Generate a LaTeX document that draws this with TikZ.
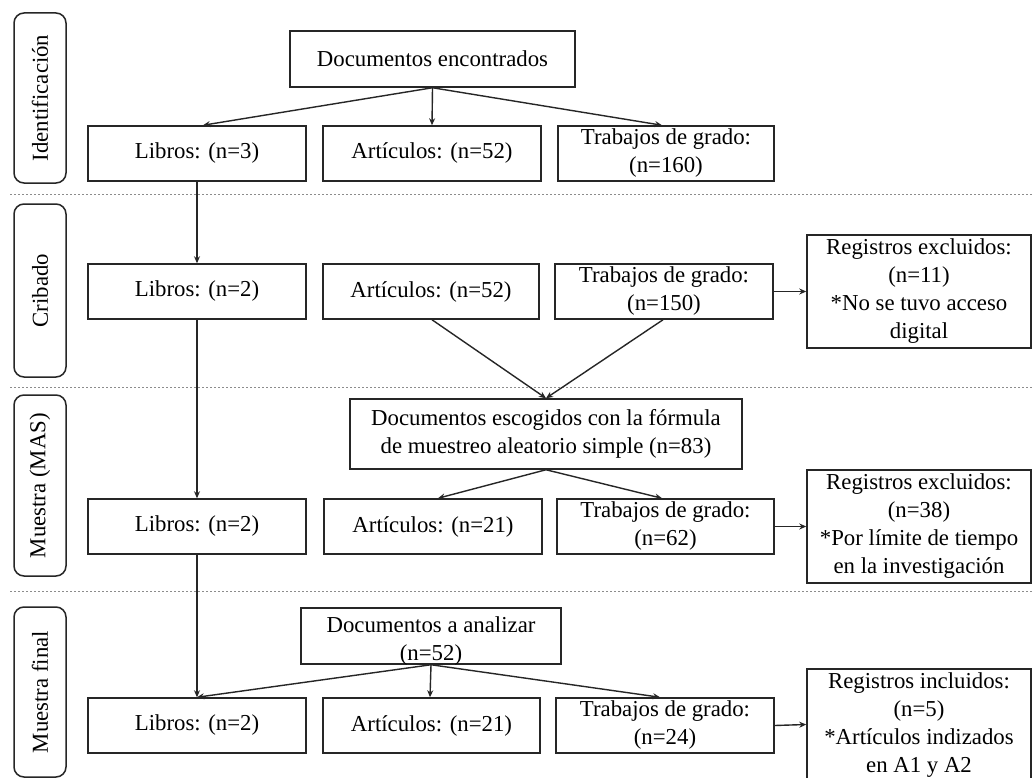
\documentclass[tikz,border=0pt]{standalone}
\usepackage{fontspec}
\setmainfont{Liberation Serif}
\usetikzlibrary{arrows.meta}
\begin{document}
\begin{tikzpicture}[x=1pt,y=-1pt,
  font=\fontsize{22.8}{28}\selectfont,
  box/.style={draw=black!85, line width=1.5pt, rectangle, inner sep=0pt, align=center, minimum height=55pt},
  side/.style={draw=black!85, line width=1.5pt, rounded corners=10pt, inner sep=0pt, minimum width=52pt},
  sep/.style={draw=black!45, line width=1pt, dash pattern=on 2pt off 2pt},
  arr/.style={draw=black!85, line width=1.4pt, -{Stealth[length=7pt,width=6pt]}}
]
\clip (0,0) rectangle (1032,778);
\fill[white] (0,0) rectangle (1032,778);

% separators
\draw[sep] (10,194) -- (1032,194);
\draw[sep] (10,387) -- (1032,387);
\draw[sep] (10,591) -- (1032,591);

% side labels
\node[side, minimum height=170pt] (s1) at (40,98) {};
\node[rotate=90] (s1t) at (s1.center) {Identificación};
\node[side, minimum height=173pt] (s2) at (40,290.5) {};
\node[rotate=90] (s2t) at (s2.center) {Cribado};
\node[side, minimum height=181pt] (s3) at (40,485.5) {};
\node[rotate=90] (s3t) at (s3.center) {Muestra (MAS)};
\node[side, minimum height=170pt] (s4) at (40,692) {};
\node[rotate=90] (s4t) at (s4.center) {Muestra final};

% row 1
\node[box, minimum width=285pt, minimum height=56pt] (enc) at (432.5,59) {Documentos encontrados};
\node[box, minimum width=218pt] (lib1) at (197,153.5) {Libros: (n=3)};
\node[box, minimum width=218pt] (art1) at (432,153.5) {Artículos: (n=52)};
\node[box, minimum width=216pt] (tra1) at (666,153.5) {Trabajos de grado:\\(n=160)};

% row 2
\node[box, minimum width=218pt] (lib2) at (197,291.5) {Libros: (n=2)};
\node[box, minimum width=216pt] (art2) at (431,291.5) {Artículos: (n=52)};
\node[box, minimum width=218pt] (tra2) at (664,291.5) {Trabajos de grado:\\(n=150)};
\node[box, minimum width=224pt, minimum height=113pt] (reg2) at (919,291.5) {Registros excluidos:\\(n=11)\\*No se tuvo acceso\\digital};

% muestreo
\node[box, minimum width=392pt, minimum height=70pt] (esc) at (546,434) {Documentos escogidos con la fórmula\\de muestreo aleatorio simple (n=83)};

% row 3
\node[box, minimum width=218pt] (lib3) at (197,526.5) {Libros: (n=2)};
\node[box, minimum width=218pt] (art3) at (433,526.5) {Artículos: (n=21)};
\node[box, minimum width=217pt] (tra3) at (665.5,526.5) {Trabajos de grado:\\(n=62)};
\node[box, minimum width=224pt, minimum height=113pt] (reg3) at (919,526.5) {Registros excluidos:\\(n=38)\\*Por límite de tiempo\\en la investigación};

% final
\node[box, minimum width=260pt, minimum height=56pt] (ana) at (431,636) {};
\node[align=center, inner sep=0pt] (anat) at (431,641) {Documentos a analizar\\(n=52)};

% row 4
\node[box, minimum width=218pt] (lib4) at (197,725.5) {Libros: (n=2)};
\node[box, minimum width=217pt] (art4) at (431.5,725.5) {Artículos: (n=21)};
\node[box, minimum width=218pt] (tra4) at (665,725.5) {Trabajos de grado:\\(n=24)};
\node[box, minimum width=224pt, minimum height=112pt] (reg4) at (919,725) {Registros incluidos:\\(n=5)\\*Artículos indizados\\en A1 y A2};

% arrows
\draw[arr] (enc.south) -- ([xshift=6pt]lib1.north);
\draw[arr] (enc.south) -- (art1.north);
\draw[arr] (enc.south) -- ([xshift=-4pt]tra1.north);
\draw[arr] (lib1.south) -- (lib2.north);
\draw[arr] (tra2.east) -- (reg2.west);
\draw[arr] ([xshift=1pt]art2.south) -- (esc.north);
\draw[arr] ([xshift=-1pt]tra2.south) -- (esc.north);
\draw[arr] (lib2.south) -- (lib3.north);
\draw[arr] (esc.south) -- ([xshift=5pt]art3.north);
\draw[arr] (esc.south) -- ([xshift=-3.5pt]tra3.north);
\draw[arr] (tra3.east) -- (reg3.west);
\draw[arr] (lib3.south) -- (lib4.north);
\draw[arr] (ana.south) -- (lib4.north);
\draw[arr] (ana.south) -- ([xshift=-1.5pt]art4.north);
\draw[arr] (ana.south) -- ([xshift=-5pt]tra4.north);
\draw[arr] (tra4.east) -- ([yshift=0.5pt]reg4.west);
\end{tikzpicture}
\end{document}
